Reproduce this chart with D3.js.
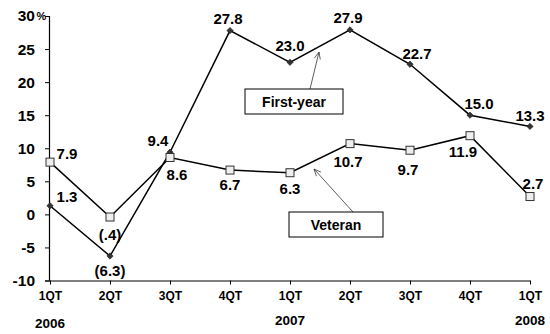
<!DOCTYPE html>
<html>
<head>
<meta charset="utf-8">
<script src="https://cdn.jsdelivr.net/npm/d3@7"></script>
<style>
  html, body { margin: 0; padding: 0; background: #fff; }
  svg { display: block; font-family: "Liberation Sans", Arial, sans-serif; }
</style>
</head>
<body>
<svg id="chart" width="550" height="334"></svg>
<script>
// Quarterly growth, first-year vs. veteran
const quarters = ["1QT", "2QT", "3QT", "4QT", "1QT", "2QT", "3QT", "4QT", "1QT"];
const years = [{ i: 0, label: "2006", dy: 3 }, { i: 4, label: "2007", dy: 0 }, { i: 8, label: "2008", dy: 0 }];
const firstYear = [1.3, -6.3, 9.4, 27.8, 23.0, 27.9, 22.7, 15.0, 13.3];
const veteran = [7.9, -0.4, 8.6, 6.7, 6.3, 10.7, 9.7, 11.9, 2.7];
const yTicks = [-10, -5, 0, 5, 10, 15, 20, 25, 30];

// label offsets (dx, dy) relative to each point
const fyOffsets = [[17, -9], [0, 14], [-12, -12], [-2, -12], [0, -17], [-2, -12], [7, -11], [9, -12], [0, -11]];
const vetOffsets = [[17, -9], [0, 17], [7, 17], [0, 14], [0, 16], [-2, 18], [-2, 19], [-7, 16], [3, -13]];

const svg = d3.select("#chart");
const x = d3.scalePoint().domain(d3.range(quarters.length)).range([50, 530]);
const y = d3.scaleLinear().domain([-10, 30]).range([280.5, 16]);

const fmt = v => {
  const s = d3.format(".1f")(Math.abs(v));
  return v < 0 ? "(" + s.replace(/^0\./, ".") + ")" : s;
};

// y axis
const yAxis = svg.append("g").attr("transform", "translate(50,0)")
  .call(d3.axisLeft(y).tickValues(yTicks).tickSize(5).tickPadding(10).tickFormat(d => d));
yAxis.select(".domain").attr("stroke", "#000").attr("stroke-width", 1.2).attr("d", `M-0.5,${y(-10)}V${y(30)}`);
yAxis.selectAll(".tick line").attr("stroke", "#000");
yAxis.selectAll(".tick text").attr("font-size", 15.5).attr("font-weight", "bold").attr("fill", "#000")
  .attr("font-family", "Liberation Sans, Arial, sans-serif");
svg.append("text").attr("x", 36.5).attr("y", y(30) + 4).attr("font-size", 11).attr("font-weight", "bold").text("%");

// x axis
const xAxis = svg.append("g").attr("transform", `translate(0,${y(-10)})`)
  .call(d3.axisBottom(x).tickSize(4).tickPadding(7).tickFormat(i => quarters[i]));
xAxis.select(".domain").attr("stroke", "#000").attr("stroke-width", 1.2).attr("d", `M${x(0) - 5},0.5H${x(8)}`);
xAxis.selectAll(".tick line").attr("stroke", "#000");
xAxis.selectAll(".tick text").attr("font-size", 12).attr("font-weight", "bold").attr("fill", "#000")
  .attr("font-family", "Liberation Sans, Arial, sans-serif");

svg.append("g").selectAll("text").data(years).join("text")
  .attr("x", d => x(d.i)).attr("y", d => 325 + d.dy)
  .attr("text-anchor", "middle").attr("font-size", 13.5).attr("font-weight", "bold").text(d => d.label);

const line = d3.line().x((d, i) => x(i)).y(d => y(d));

// series lines
svg.append("path").datum(veteran).attr("d", line).attr("fill", "none").attr("stroke", "#000").attr("stroke-width", 1.5);
svg.append("path").datum(firstYear).attr("d", line).attr("fill", "none").attr("stroke", "#000").attr("stroke-width", 1.5);

// markers: dark diamonds for first-year, light squares for veteran
svg.append("g").selectAll("path").data(firstYear).join("path")
  .attr("d", d3.symbol(d3.symbolSquare, 20))
  .attr("transform", (d, i) => `translate(${x(i)},${y(d)}) rotate(45)`)
  .attr("fill", "#333").attr("stroke", "#222").attr("stroke-width", 0.6);
svg.append("g").selectAll("rect").data(veteran).join("rect")
  .attr("x", (d, i) => x(i) - 4).attr("y", d => y(d) - 4)
  .attr("width", 8).attr("height", 8)
  .attr("fill", "#eee").attr("stroke", "#333").attr("stroke-width", 1);

// value labels
function labels(data, offs) {
  svg.append("g").selectAll("text").data(data).join("text")
    .attr("x", (d, i) => x(i) + offs[i][0]).attr("y", (d, i) => y(d) + offs[i][1] + 5.5)
    .attr("text-anchor", "middle").attr("font-size", 15).attr("font-weight", "bold").attr("fill", "#000")
    .text(fmt);
}
labels(firstYear, fyOffsets);
labels(veteran, vetOffsets);

// callout boxes with pointer lines
function callout(text, bx, by, bw, bh, ax, ay, tx, ty) {
  svg.append("line").attr("x1", ax).attr("y1", ay).attr("x2", tx).attr("y2", ty)
    .attr("stroke", "#333").attr("stroke-width", 0.8);
  const ang = Math.atan2(ty - ay, tx - ax);
  const L = 7, W = 3;
  const bxp = tx - L * Math.cos(ang), byp = ty - L * Math.sin(ang);
  svg.append("path")
    .attr("d", `M${tx},${ty}L${bxp - W * Math.sin(ang)},${byp + W * Math.cos(ang)}M${tx},${ty}L${bxp + W * Math.sin(ang)},${byp - W * Math.cos(ang)}`)
    .attr("stroke", "#333").attr("stroke-width", 0.8).attr("fill", "none");
  svg.append("rect").attr("x", bx).attr("y", by).attr("width", bw).attr("height", bh)
    .attr("fill", "#fff").attr("stroke", "#000").attr("stroke-width", 1);
  svg.append("text").attr("x", bx + bw / 2).attr("y", by + bh / 2 + 5)
    .attr("text-anchor", "middle").attr("font-size", 14).attr("font-weight", "bold").text(text);
}
callout("First-year", 245, 89, 98, 25, 310, 89, 319, 52);
callout("Veteran", 289, 212, 94, 25, 353, 212, 314, 169);
</script>
</body>
</html>
